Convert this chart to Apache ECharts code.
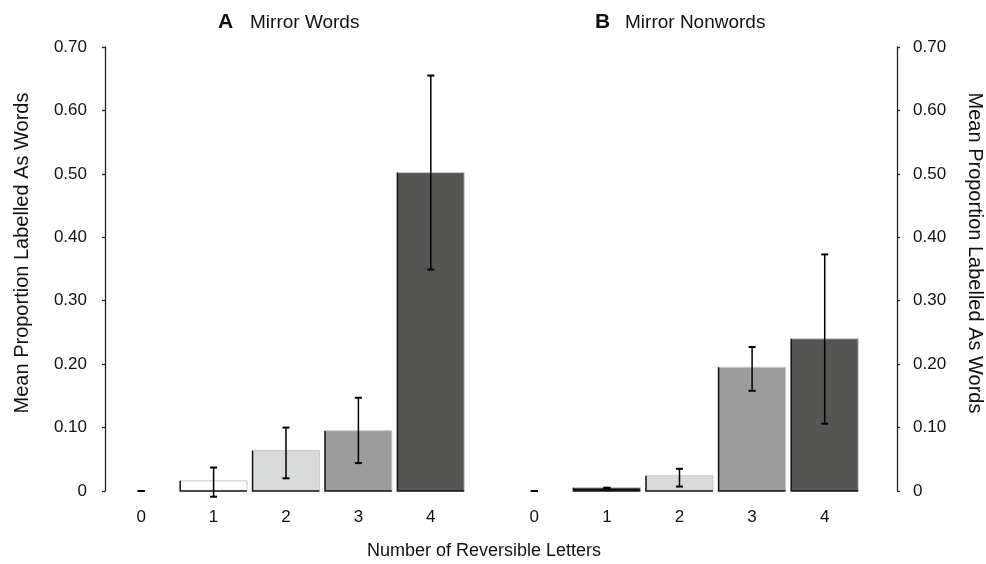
<!DOCTYPE html>
<html>
<head>
<meta charset="utf-8">
<script src="https://cdn.jsdelivr.net/npm/echarts@6/dist/echarts.min.js"></script>
<style>
  html, body { margin: 0; padding: 0; background: #fff; }
  #chart { width: 986px; height: 564px; }
</style>
</head>
<body>
<div id="chart"></div>
<script>
// Number of reversible letters (categories shared by both panels)
var categories = ['0', '1', '2', '3', '4'];

// Panel A: mirror words
var wordsMean = [0, 0.016, 0.064, 0.095, 0.502];
var wordsLow  = [0, -0.009, 0.020, 0.044, 0.349];
var wordsHigh = [0, 0.037, 0.100, 0.147, 0.655];

// Panel B: mirror nonwords
var nonwordsMean = [0, 0.005, 0.024, 0.195, 0.240];
var nonwordsLow  = [0, 0.005, 0.007, 0.158, 0.106];
var nonwordsHigh = [0, 0.005, 0.035, 0.227, 0.373];

var yTicks = ['0', '0.10', '0.20', '0.30', '0.40', '0.50', '0.60', '0.70'];

var barFillsA = ['#ffffff', '#ffffff', '#d9dada', '#9b9c9b', '#555554'];
var barFillsB = ['#ffffff', '#111111', '#d9dada', '#9b9c9b', '#555554'];

var FONT = '"Liberation Sans", Arial, Helvetica, sans-serif';

function barItems(means) {
  return means.map(function (v, i) { return [i, v]; });
}
function errItems(means, lows, highs) {
  return means.map(function (v, i) { return [i, lows[i], highs[i]]; });
}

// Bars with a dark left/bottom edge and a faint top/right edge
function makeBarRenderer(fills) {
  return function (params, api) {
    var idx = api.value(0);
    var val = api.value(1);
    if (!(val > 0)) return null;
    var base = api.coord([idx, 0]);
    var top = api.coord([idx, val]);
    var band = api.size([1, 0])[0];
    var w = band * 0.923;
    var x0 = base[0] - w / 2, x1 = base[0] + w / 2;
    return {
      type: 'group',
      children: [
        { type: 'rect', shape: { x: x0, y: top[1], width: w, height: base[1] - top[1] },
          style: { fill: fills[params.dataIndex], stroke: null } },
        { type: 'polyline', shape: { points: [[x0, top[1]], [x1, top[1]], [x1, base[1]]] },
          style: { stroke: '#c9c9c9', lineWidth: 1, fill: null } },
        { type: 'polyline', shape: { points: [[x0, top[1]], [x0, base[1]], [x1, base[1]]] },
          style: { stroke: '#111', lineWidth: 1.5, fill: null } }
      ]
    };
  };
}

function renderErr(params, api) {
  var idx = api.value(0);
  var lo = api.coord([idx, api.value(1)]);
  var hi = api.coord([idx, api.value(2)]);
  var half = 3.5;
  var x = lo[0];
  return {
    type: 'group',
    children: [
      { type: 'line', shape: { x1: x, y1: lo[1], x2: x, y2: hi[1] },
        style: { stroke: '#000', lineWidth: 1.5 } },
      { type: 'line', shape: { x1: x - half, y1: hi[1], x2: x + half, y2: hi[1] },
        style: { stroke: '#000', lineWidth: 2 } },
      { type: 'line', shape: { x1: x - half, y1: lo[1], x2: x + half, y2: lo[1] },
        style: { stroke: '#000', lineWidth: 2 } }
    ]
  };
}

function yAxisDef(gridIndex, position, offset, labelMargin) {
  return {
    type: 'value',
    gridIndex: gridIndex,
    min: 0, max: 0.7, interval: 0.1,
    position: position,
    offset: offset,
    axisLine: { show: true, lineStyle: { color: '#222', width: 1.3 } },
    axisTick: { show: true, length: 3, lineStyle: { color: '#222', width: 1.3 } },
    splitLine: { show: false },
    axisLabel: {
      margin: labelMargin,
      fontFamily: FONT, fontSize: 17, color: '#111',
      formatter: function (v) { return yTicks[Math.round(v * 10)]; }
    }
  };
}

function xAxisDef(gridIndex) {
  return {
    type: 'category',
    gridIndex: gridIndex,
    data: categories,
    axisLine: { show: false },
    axisTick: { show: false },
    axisLabel: { margin: 18, fontFamily: FONT, fontSize: 17, color: '#111' }
  };
}

function label(text, x, y, size, weight, align, rotation) {
  return {
    type: 'text', x: x, y: y, rotation: rotation || 0,
    style: { text: text, fontFamily: FONT, fontSize: size, fontWeight: weight,
             fill: '#111', align: align, verticalAlign: 'middle' }
  };
}

var chart = echarts.init(document.getElementById('chart'));
chart.setOption({
  animation: false,
  backgroundColor: '#fff',
  graphic: [
    label('A', 218, 22, 21, 'bold', 'left'),
    label('Mirror Words', 250, 23, 19, 'normal', 'left'),
    label('B', 595, 22, 21, 'bold', 'left'),
    label('Mirror Nonwords', 625, 23, 19, 'normal', 'left'),
    label('Number of Reversible Letters', 484, 551, 18, 'normal', 'center'),
    label('Mean Proportion Labelled As Words', 22, 253, 20, 'normal', 'center', Math.PI / 2),
    label('Mean Proportion Labelled As Words', 975, 253, 20, 'normal', 'center', -Math.PI / 2)
  ],
  grid: [
    { left: 105, top: 47, width: 362, height: 444 },
    { left: 498, top: 47, width: 363, height: 444 }
  ],
  xAxis: [xAxisDef(0), xAxisDef(1)],
  yAxis: [
    yAxisDef(0, 'left', 0, 18),
    yAxisDef(1, 'right', 36, 16)
  ],
  series: [
    { type: 'custom', xAxisIndex: 0, yAxisIndex: 0, renderItem: makeBarRenderer(barFillsA),
      data: barItems(wordsMean), clip: false, z: 2 },
    { type: 'custom', xAxisIndex: 0, yAxisIndex: 0, renderItem: renderErr,
      data: errItems(wordsMean, wordsLow, wordsHigh), clip: false, z: 3 },
    { type: 'custom', xAxisIndex: 1, yAxisIndex: 1, renderItem: makeBarRenderer(barFillsB),
      data: barItems(nonwordsMean), clip: false, z: 2 },
    { type: 'custom', xAxisIndex: 1, yAxisIndex: 1, renderItem: renderErr,
      data: errItems(nonwordsMean, nonwordsLow, nonwordsHigh), clip: false, z: 3 }
  ]
});
</script>
</body>
</html>
